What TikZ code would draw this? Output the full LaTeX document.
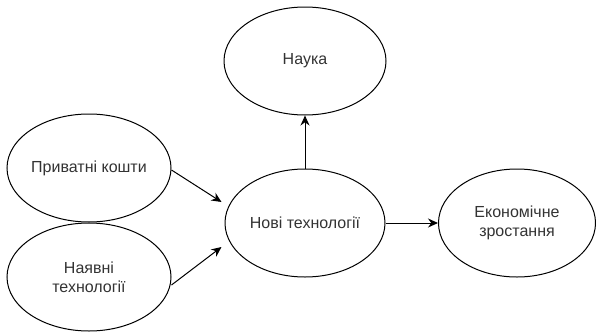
\documentclass[tikz,border=0pt]{standalone}
\usepackage{fontspec}
\setmainfont{Liberation Sans}
\usetikzlibrary{shapes.geometric,arrows.meta}
\begin{document}
\begin{tikzpicture}[x=1pt,y=-1pt,
  oval/.style={ellipse,draw=black,line width=1pt,fill=white,inner sep=0pt,
    minimum width=162pt,minimum height=108pt,align=center,
    text=black!80,font=\fontsize{16}{19}\selectfont},
  conn/.style={line width=1pt,-{Stealth[length=10pt,width=9pt]}}]
\useasboundingbox (0,0) rectangle (596,332);
\node[oval] (s) at (305,61) {Наука};
\node[oval,minimum width=164pt] (p) at (89,168) {Приватні кошти};
\node[oval,minimum width=164pt] (h) at (89,277) {Наявні\\технології};
\node[oval,minimum width=160pt] (n) at (305,223) {Нові технології};
\node[oval,minimum width=157pt] (e) at (517,223) {Економічне\\зростання};
\draw[conn] (n.north) -- (s.south);
\draw[conn] (n.east) -- (e.west);
\draw[conn] ([yshift=-2pt]p.east) -- ([xshift=-3pt,yshift=21pt]n.west);
\draw[conn] ([yshift=-8pt]h.east) -- ([xshift=-3pt,yshift=-24pt]n.west);
\end{tikzpicture}
\end{document}
